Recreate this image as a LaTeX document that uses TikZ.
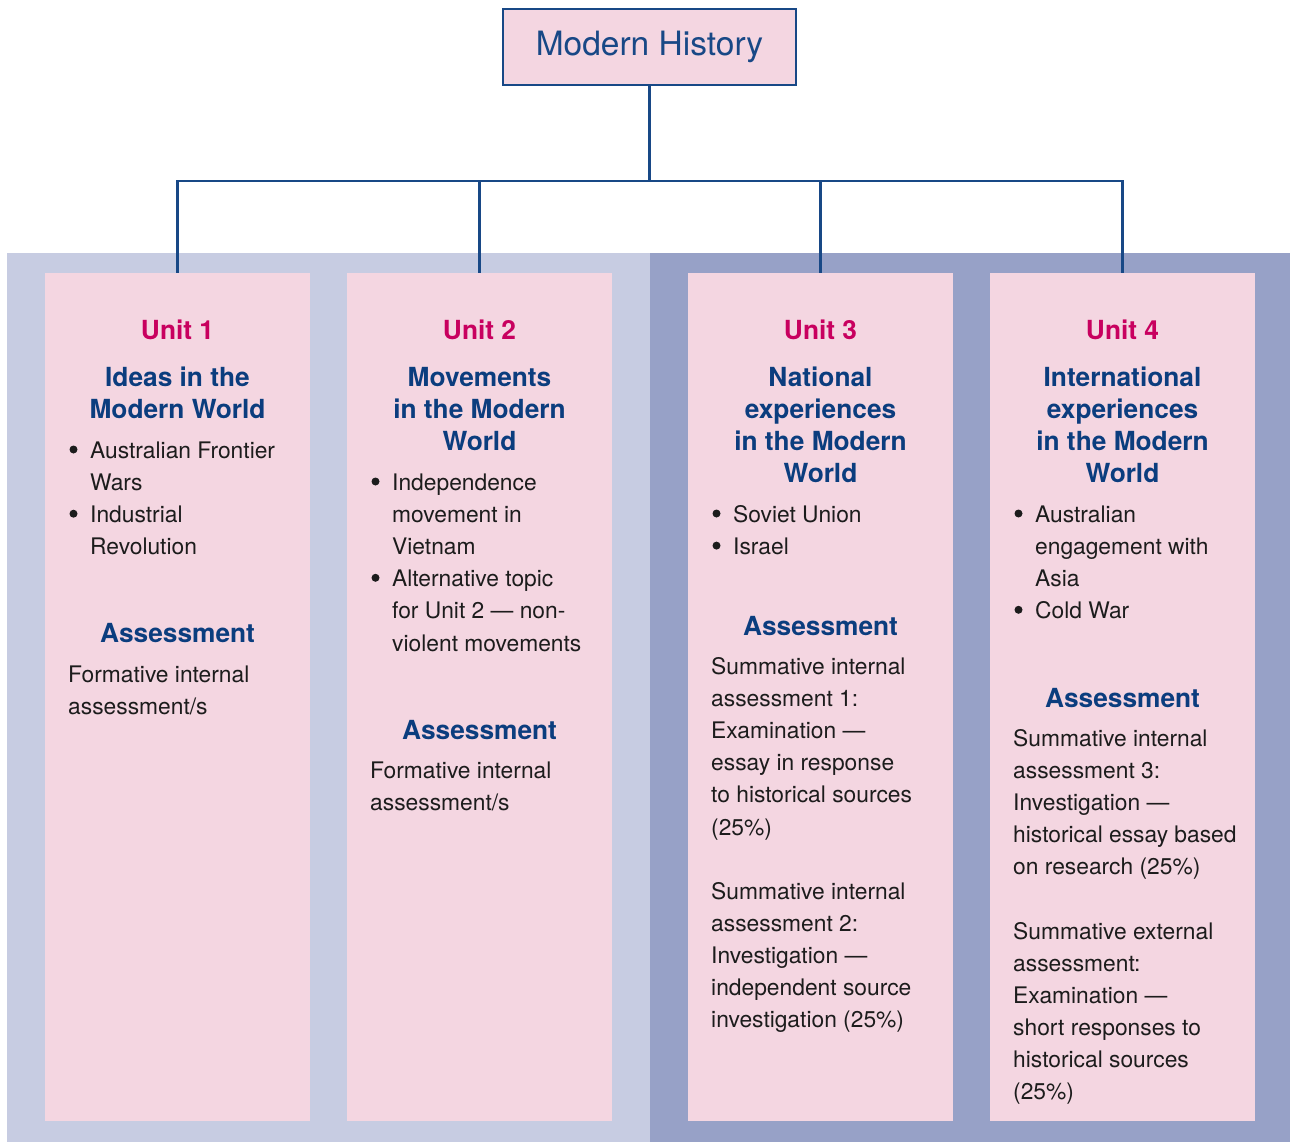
\documentclass[tikz,border=0pt]{standalone}
\usepackage{fontspec}
\setmainfont{TeX Gyre Heros}
\definecolor{panellight}{HTML}{C7CCE2}
\definecolor{paneldark}{HTML}{97A1C7}
\definecolor{cardpink}{HTML}{F4D6E1}
\definecolor{navy}{HTML}{0B3D7E}
\definecolor{linkblue}{HTML}{184886}
\definecolor{unitred}{HTML}{C8005F}
\definecolor{bodyink}{HTML}{1C1C1C}

% stacked lines with a fixed line pitch; the baseline is that of the first line
\newcommand\cstack[1]{\vtop{\baselineskip=32.1pt\lineskiplimit=-40pt\halign{\hfil##\hfil\cr#1\crcr}}}
\newcommand\lstack[1]{\vtop{\baselineskip=32.1pt\lineskiplimit=-40pt\halign{##\hfil\cr#1\crcr}}}
% round bullet, centred 9pt above the baseline, followed by the hanging indent
\newcommand\bul{\makebox[22pt][l]{\hspace{1.3pt}\tikz[x=1pt,y=1pt,baseline=-9pt]\fill[bodyink] (0,0) circle (4pt);}}
\newcommand\ind{\hspace*{22pt}}

\newcommand\headfont{\fontsize{26.3}{32}\selectfont\bfseries}
\newcommand\bodyfont{\fontsize{22.8}{32}\selectfont}

\tikzset{
  titlebox/.style={draw=linkblue, line width=2.5pt, fill=cardpink, minimum width=293pt,
    minimum height=76pt, inner sep=0pt, text=linkblue, font=\fontsize{33.5}{38}\selectfont},
  unitbox/.style={fill=cardpink, minimum width=265pt, minimum height=848pt, inner sep=0pt},
  conn/.style={draw=linkblue, line width=2.2pt},
  unitlbl/.style={anchor=base, inner sep=0pt, text=unitred, font=\headfont},
  unithead/.style={anchor=base, inner sep=0pt, text=navy, font=\headfont},
  bodytext/.style={anchor=base west, inner sep=0pt, text=bodyink, font=\bodyfont}
}

\begin{document}
\begin{tikzpicture}[x=1pt,y=-1pt]
\useasboundingbox (0,0) rectangle (1290,1142);

% background panels
\fill[panellight] (7,253) rectangle (650,1142);
\fill[paneldark] (650,253) rectangle (1290,1142);

% unit cards
\node[unitbox] (u1) at (177.5,697) {};
\node[unitbox] (u2) at (479.5,697) {};
\node[unitbox] (u3) at (820.5,697) {};
\node[unitbox] (u4) at (1122.5,697) {};

% top node and tree connectors
\node[titlebox] (top) at (649.5,47) {Modern History};
\coordinate (hub) at (649.5,181);
\draw[conn] (top.south) -- (hub);
\draw[conn] (u1.north) |- (hub);
\draw[conn] (u2.north) |- (hub);
\draw[conn] (u3.north) |- (hub);
\draw[conn] (u4.north) |- (hub);

% Unit 1
\node[unitlbl] (u1lbl) at (177.5,339) {Unit 1};
\node[unithead] (u1ttl) at (177.5,386.5) {\cstack{Ideas in the\cr Modern World}};
\node[bodytext] (u1top) at (68,458.5) {\lstack{\bul Australian Frontier\cr \ind Wars\cr \bul Industrial\cr \ind Revolution}};
\node[unithead] (u1ah) at (177.5,642.5) {Assessment};
\node[bodytext] (u1as) at (68,682.5) {\lstack{Formative internal\cr assessment/s}};

% Unit 2
\node[unitlbl] (u2lbl) at (479.5,339) {Unit 2};
\node[unithead] (u2ttl) at (479.5,386.5) {\cstack{Movements\cr in the Modern\cr World}};
\node[bodytext] (u2top) at (370,490.5) {\lstack{\bul Independence\cr \ind movement in\cr \ind Vietnam\cr \bul Alternative topic\cr \ind for Unit 2 — non-\cr \ind violent movements}};
\node[unithead] (u2ah) at (479.5,739.5) {Assessment};
\node[bodytext] (u2as) at (370,778.5) {\lstack{Formative internal\cr assessment/s}};

% Unit 3
\node[unitlbl] (u3lbl) at (820.5,339) {Unit 3};
\node[unithead] (u3ttl) at (820.5,386.5) {\cstack{National\cr experiences\cr in the Modern\cr World}};
\node[bodytext] (u3top) at (711,522.5) {\lstack{\bul Soviet Union\cr \bul Israel}};
\node[unithead] (u3ah) at (820.5,635.5) {Assessment};
\node[bodytext] (u3as) at (711,674.5) {\lstack{Summative internal\cr assessment 1:\cr Examination —\cr essay in response\cr to historical sources\cr (25\%)\cr \cr Summative internal\cr assessment 2:\cr Investigation —\cr independent source\cr investigation (25\%)}};

% Unit 4
\node[unitlbl] (u4lbl) at (1122.5,339) {Unit 4};
\node[unithead] (u4ttl) at (1122.5,386.5) {\cstack{International\cr experiences\cr in the Modern\cr World}};
\node[bodytext] (u4top) at (1013,522.5) {\lstack{\bul Australian\cr \ind engagement with\cr \ind Asia\cr \bul Cold War}};
\node[unithead] (u4ah) at (1122.5,707.5) {Assessment};
\node[bodytext] (u4as) at (1013,746.5) {\lstack{Summative internal\cr assessment 3:\cr Investigation —\cr historical essay based\cr on research (25\%)\cr \cr Summative external\cr assessment:\cr Examination —\cr short responses to\cr historical sources\cr (25\%)}};
\end{tikzpicture}
\end{document}
